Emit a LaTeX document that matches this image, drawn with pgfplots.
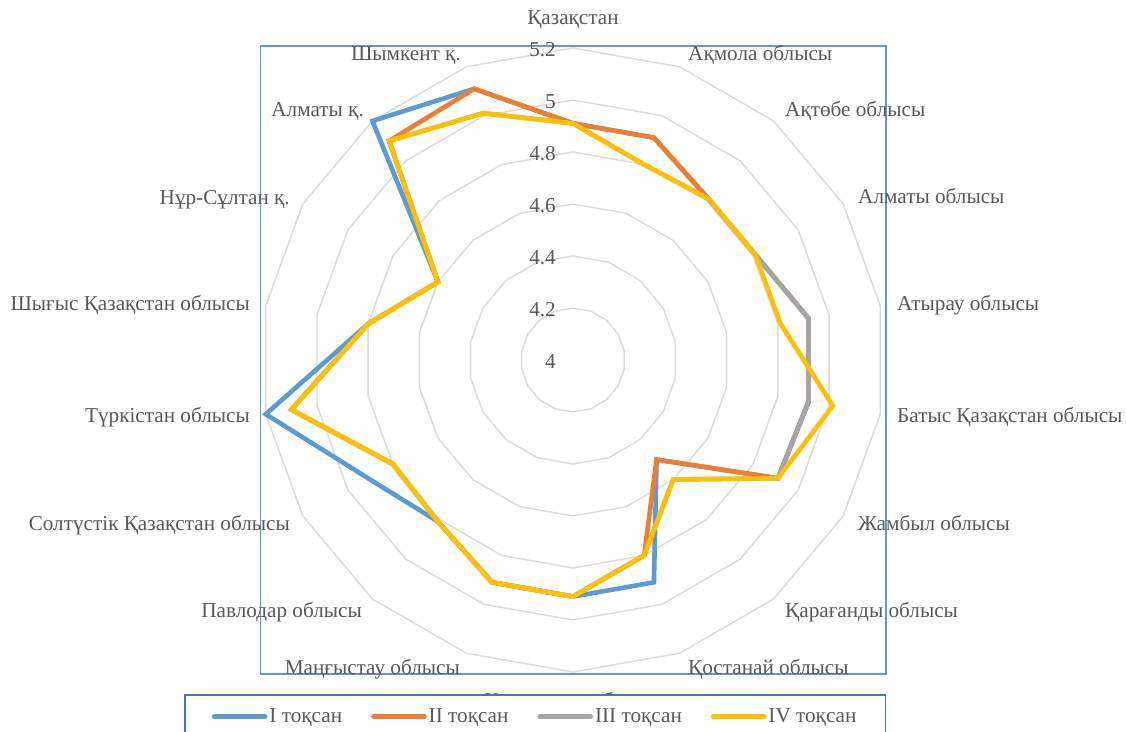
\documentclass[border=0pt]{standalone}
\usepackage{pgfplots}
\pgfplotsset{compat=1.18}
\usepackage{pgfplotstable}
\usepackage{fontspec}
\setmainfont{Liberation Serif}
\definecolor{sI}{HTML}{5B9BD5}
\definecolor{sII}{HTML}{ED7D31}
\definecolor{sIII}{HTML}{A5A5A5}
\definecolor{sIV}{HTML}{FFC000}
\definecolor{gridc}{HTML}{D9D9D9}
\definecolor{txt}{HTML}{595959}
\definecolor{frameA}{HTML}{5B9BD5}
\definecolor{frameB}{HTML}{4472C4}

% angle (deg, counter-clockwise from east), values of the four quarters
\pgfplotstableread{
ang   I     II    III   IV
90    4.91  4.91  4.91  4.91
70    4.91  4.91  4.80  4.80
50    4.81  4.81  4.81  4.81
30    4.81  4.81  4.81  4.81
10    4.92  4.92  4.92  4.81
-10   4.92  4.92  4.92  5.015
-30   4.91  4.91  4.91  4.91
-50   4.50  4.50  4.60  4.60
-70   4.91  4.80  4.80  4.80
-90   4.91  4.91  4.91  4.91
-110  4.91  4.91  4.91  4.91
-130  4.81  4.81  4.81  4.81
-150  4.91  4.80  4.80  4.80
-170  5.20  5.10  5.10  5.10
-190  4.80  4.80  4.80  4.80
-210  4.60  4.60  4.60  4.60
-230  5.20  5.10  5.10  5.10
-250  5.11  5.11  5.01  5.01
-270  4.91  4.91  4.91  4.91
}\datatable

\newcommand{\lf}{\fontsize{21.2}{25}\selectfont}

\begin{document}
\begin{tikzpicture}[x=1pt,y=1pt]
\useasboundingbox (0,0) rectangle (1126,731);
\fill[white] (0,0) rectangle (1126,731);
\draw[frameA, line width=1.4pt] (260.5,685) rectangle (886,57);

\begin{axis}[
  at={(573pt,371pt)}, anchor=center,
  x=260pt, y=260pt,
  xmin=-1.25, xmax=1.25, ymin=-1.25, ymax=1.25,
  hide axis, clip=false,
  data cs=polar,
  legend columns=4,
  legend style={
    at={(rel axis cs:-0.0985,-0.0138)}, anchor=north west,
    draw=frameB, line width=1.8pt, fill=white,
    font=\lf, text=txt,
    inner xsep=27pt, inner ysep=12pt,
    /tikz/every even column/.append style={column sep=27pt},
  },
  legend image code/.code={\draw[#1, line cap=round] (0pt,0pt) -- (51pt,0pt);},
]
\foreach \r in {0.2,0.4,0.6,0.8,1.0,1.2}{
  \addplot[gridc, line width=1.4pt, forget plot] table[x=ang, y expr=\r] {\datatable};
}
\addplot[sI,   line width=4.6pt, line join=miter] table[x=ang, y expr=\thisrow{I}-4]   {\datatable};
\addlegendentry{I тоқсан}
\addplot[sII,  line width=4.6pt, line join=miter] table[x=ang, y expr=\thisrow{II}-4]  {\datatable};
\addlegendentry{II тоқсан}
\addplot[sIII, line width=4.6pt, line join=miter] table[x=ang, y expr=\thisrow{III}-4] {\datatable};
\addlegendentry{III тоқсан}
\addplot[sIV,  line width=4.6pt, line join=miter] table[x=ang, y expr=\thisrow{IV}-4]  {\datatable};
\addlegendentry{IV тоқсан}
\node[font=\lf, text=txt, inner sep=0pt, text height=0.7em, text depth=0.2em, anchor=center]
  at (rel axis cs:0.5,-0.0308) {Қызылорда облысы};
\end{axis}

\begin{scope}[every node/.style={font=\lf, text=txt, inner sep=0pt, text height=0.7em, text depth=0.2em}]
% radial tick labels
\node[anchor=east] at (556,365) {4};
\node[anchor=east] at (556,417) {4.2};
\node[anchor=east] at (556,469) {4.4};
\node[anchor=east] at (556,521) {4.6};
\node[anchor=east] at (556,573) {4.8};
\node[anchor=east] at (556,625) {5};
\node[anchor=east] at (556,677) {5.2};
% category labels
\node[anchor=center] at (573,709) {Қазақстан};
\node[anchor=west] at (688,673) {Ақмола облысы};
\node[anchor=west] at (785,617) {Ақтөбе облысы};
\node[anchor=west] at (858,530) {Алматы облысы};
\node[anchor=west] at (897,423) {Атырау облысы};
\node[anchor=west] at (897,311) {Батыс Қазақстан облысы};
\node[anchor=west] at (858,203) {Жамбыл облысы};
\node[anchor=west] at (785,116) {Қарағанды облысы};
\node[anchor=west] at (688,59) {Қостанай облысы};
\node[anchor=east] at (460,59) {Маңғыстау облысы};
\node[anchor=east] at (362,116) {Павлодар облысы};
\node[anchor=east] at (290,203) {Солтүстік Қазақстан облысы};
\node[anchor=east] at (250,311) {Түркістан облысы};
\node[anchor=east] at (250,423) {Шығыс Қазақстан облысы};
\node[anchor=east] at (290,529) {Нұр-Сұлтан қ.};
\node[anchor=east] at (364,617) {Алматы қ.};
\node[anchor=east] at (461,673) {Шымкент қ.};
\end{scope}
\end{tikzpicture}
\end{document}
